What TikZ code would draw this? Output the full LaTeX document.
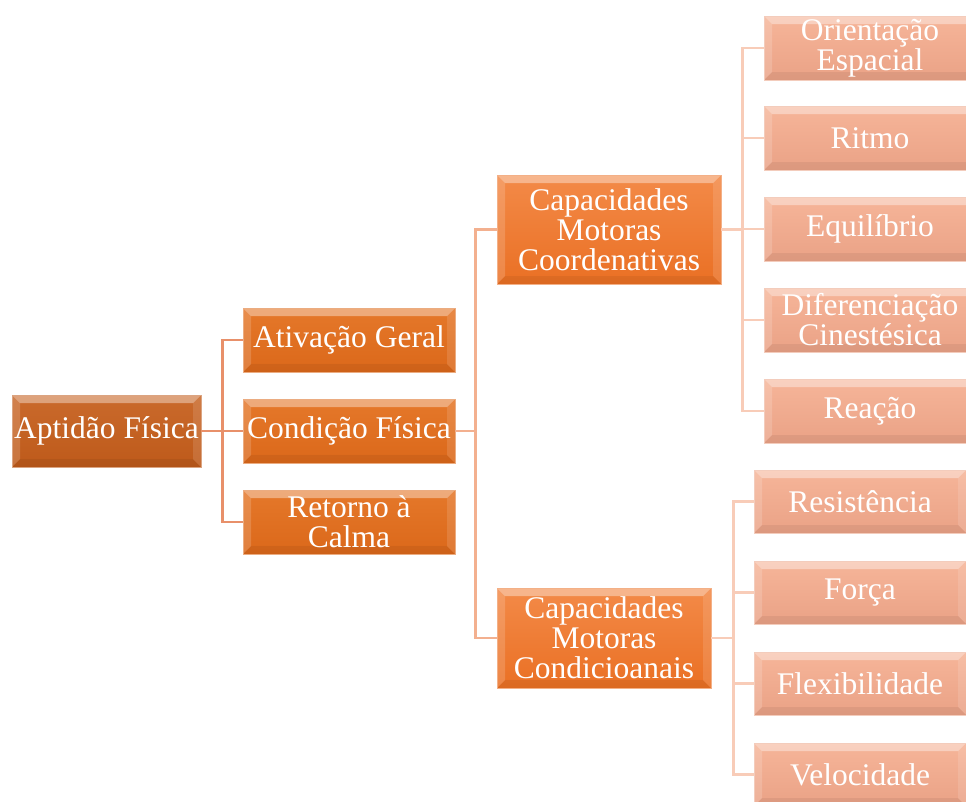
\documentclass[tikz,border=0pt]{standalone}
\usepackage{fontspec}
\setmainfont{Liberation Serif}
\usetikzlibrary{calc}
\definecolor{cA}{HTML}{BE5A1A}
\definecolor{cAt}{HTML}{CA6A2C}
\definecolor{cB}{HTML}{DB681A}
\definecolor{cBt}{HTML}{E5782A}
\definecolor{cC}{HTML}{EA7024}
\definecolor{cCt}{HTML}{F38A48}
\definecolor{cD}{HTML}{EAA286}
\definecolor{cDt}{HTML}{F6B599}
\definecolor{lA}{HTML}{E8906A}
\definecolor{lB}{HTML}{F3B08F}
\definecolor{lC}{HTML}{F8CCB8}
\tikzset{
  bevel/.style={path picture={
    \coordinate (bsw) at (path picture bounding box.south west);
    \coordinate (bne) at (path picture bounding box.north east);
    \coordinate (bnw) at (path picture bounding box.north west);
    \coordinate (bse) at (path picture bounding box.south east);
    \fill[white,opacity=0.38] (bnw) -- (bne) -- ($(bne)+(-8pt,-8pt)$) -- ($(bnw)+(8pt,-8pt)$) -- cycle;
    \fill[white,opacity=0.16] (bnw) -- ($(bnw)+(8pt,-8pt)$) -- ($(bsw)+(8pt,8pt)$) -- (bsw) -- cycle;
    \fill[white,opacity=0.12] (bne) -- ($(bne)+(-8pt,-8pt)$) -- ($(bse)+(-8pt,8pt)$) -- (bse) -- cycle;
    \fill[black,opacity=0.06] (bsw) -- ($(bsw)+(8pt,8pt)$) -- ($(bse)+(-8pt,8pt)$) -- (bse) -- cycle;
  }},
  box/.style={rectangle, inner sep=0pt, align=center, text=white,
    font=\fontsize{31.5}{30}\selectfont, bevel, line width=0.8pt},
  lv0/.style={box, top color=cAt, bottom color=cA, draw=cA!55!white},
  lv1/.style={box, top color=cBt, bottom color=cB, draw=cB!55!white},
  lv2/.style={box, top color=cCt, bottom color=cC, draw=cC!55!white},
  lv3/.style={box, top color=cDt, bottom color=cD, draw=cD!55!white},
  connA/.style={draw=lA, line width=2.6pt},
  connB/.style={draw=lB, line width=2.6pt},
  connC/.style={draw=lC, line width=2.6pt},
}
\begin{document}
\begin{tikzpicture}[x=1pt,y=1pt]
\useasboundingbox (0,0) rectangle (966,-801);
\clip (0,0) rectangle (966,-801);
% nodes
\node[lv0, minimum width=189pt, minimum height=72pt] (apt) at (106.5,-431) {Aptidão Física};
\node[lv1, minimum width=212pt, minimum height=64pt] (ativ) at (349,-340) {Ativação Geral};
\node[lv1, minimum width=212pt, minimum height=64pt] (cond) at (349,-431) {Condição Física};
\node[lv1, minimum width=212pt, minimum height=64pt] (ret) at (349,-522) {Retorno à\\Calma};
\node[lv2, minimum width=224pt, minimum height=109pt] (cc) at (609,-229.5) {Capacidades\\Motoras\\Coordenativas};
\node[lv2, minimum width=214pt, minimum height=100pt] (cd) at (604,-638) {Capacidades\\Motoras\\Condicioanais};
\node[lv3, minimum width=212pt, minimum height=64pt] (o1) at (870,-48) {Orientação\\Espacial};
\node[lv3, minimum width=212pt, minimum height=64pt] (o2) at (870,-138) {Ritmo};
\node[lv3, minimum width=212pt, minimum height=64pt] (o3) at (870,-229) {Equilíbrio};
\node[lv3, minimum width=212pt, minimum height=64pt] (o4) at (870,-320) {Diferenciação\\Cinestésica};
\node[lv3, minimum width=212pt, minimum height=64pt] (o5) at (870,-411) {Reação};
\node[lv3, minimum width=212pt, minimum height=63pt] (d1) at (860,-501.5) {Resistência};
\node[lv3, minimum width=212pt, minimum height=63pt] (d2) at (860,-592.5) {Força};
\node[lv3, minimum width=212pt, minimum height=63pt] (d3) at (860,-683.5) {Flexibilidade};
\node[lv3, minimum width=212pt, minimum height=63pt] (d4) at (860,-774.5) {Velocidade};
% connectors
\foreach \t in {ativ,cond,ret} \path[connA] (apt.east) -- ++(21,0) |- (\t.west);
\foreach \t in {cc,cd} \path[connB] (cond.east) -- ++(20,0) |- (\t.west);
\foreach \t in {o1,o2,o3,o4,o5} \path[connC] (cc.east) -- ++(21,0) |- (\t.west);
\foreach \t in {d1,d2,d3,d4} \path[connC] (cd.east) -- ++(22,0) |- (\t.west);
\end{tikzpicture}
\end{document}
